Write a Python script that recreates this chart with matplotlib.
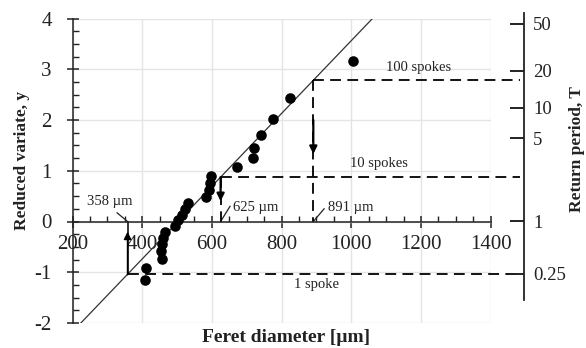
import matplotlib
matplotlib.use("Agg")
import matplotlib.pyplot as plt
import numpy as np

plt.rcParams["font.family"] = ["Liberation Serif", "DejaVu Serif"]
plt.rcParams["axes.unicode_minus"] = False

# ranked Feret diameters and Gumbel reduced variate
feret = [408, 411, 458, 455, 456, 459, 465, 494, 503, 513, 522, 531,
         582, 592, 594, 597, 671, 717, 720, 740, 776, 824, 1006]
reduced = [-1.16, -0.91, -0.73, -0.58, -0.45, -0.33, -0.21, -0.09, 0.02,
           0.13, 0.25, 0.37, 0.49, 0.62, 0.76, 0.90, 1.07, 1.25, 1.45,
           1.70, 2.01, 2.44, 3.16]

# fitted line y = a*x + b
fit_slope = 0.00717
fit_intercept = -3.606

# critical sizes for 1 / 10 / 100 spokes
crit_size = [358, 625, 891]
crit_label = ["358 µm", "625 µm", "891 µm"]
spoke_label = ["1 spoke", "10 spokes", "100 spokes"]

# return period axis (tick positions in reduced variate units)
T_pos = [3.90, 2.97, 2.24, 1.64, 0.0, -1.03]
T_lab = ["50", "20", "10", "5", "1", "0.25"]

W, H = 586, 348
fig = plt.figure(figsize=(W / 100, H / 100), dpi=100)

ax = fig.add_axes([72.5 / W, 1 - 323 / H, 418.2 / W, 304.5 / H])
ax.set_xlim(200, 1400)
ax.set_ylim(-2, 4)

ink = "#222222"
ax.set_xticks(np.arange(200, 1401, 200))
ax.set_yticks(np.arange(-2, 4.1, 1))
ax.set_xticks(np.arange(200, 1401, 50), minor=True)
ax.set_yticks(np.arange(-2, 4.01, 0.25), minor=True)
ax.grid(True, which="major", color="#e4e4e4", lw=1.0, zorder=0)
ax.set_axisbelow(True)

for s in ["top", "right"]:
    ax.spines[s].set_visible(False)
ax.spines["bottom"].set_position(("data", 0))
for s in ["left", "bottom"]:
    ax.spines[s].set_color(ink)
    ax.spines[s].set_linewidth(1.1)
    ax.spines[s].set_zorder(4)

ax.tick_params(which="major", direction="inout", length=8, width=1.1,
               color=ink, labelsize=15, labelcolor=ink)
ax.tick_params(which="minor", direction="in", length=4, width=1.0, color=ink)
ax.tick_params(axis="x", which="major", pad=6)
ax.tick_params(axis="y", which="major", pad=11)

# fit line
xs = np.array([200, 1400])
ax.plot(xs, fit_slope * xs + fit_intercept, color="#333333", lw=0.9, zorder=3)

# data points
ax.scatter(feret, reduced, s=58, color="black", zorder=5, linewidths=0)

x_right = 1484
dash = dict(color="black", lw=1.3, dashes=(6, 3.5), clip_on=False, zorder=3)
for i, xc in enumerate(crit_size):
    yc = fit_slope * xc + fit_intercept
    ax.plot([xc, x_right], [yc, yc], **dash)
    if i == 0:
        ax.plot([xc, xc], [yc, 0], color="black", lw=1.1, zorder=3)
        ax.annotate("", xy=(xc, -0.2), xytext=(xc, yc - 0.01),
                    arrowprops=dict(arrowstyle="-|>", color="black", lw=1.1,
                                    mutation_scale=11, shrinkA=0, shrinkB=0))
    else:
        ax.plot([xc, xc], [yc, 0], **dash)
        top = yc if i == 1 else 2.0
        tip = 0.4 if i == 1 else 1.33
        ax.annotate("", xy=(xc, tip), xytext=(xc, top),
                    arrowprops=dict(arrowstyle="-|>", color="black", lw=1.6,
                                    mutation_scale=11, shrinkA=0, shrinkB=0),
                    zorder=4)

# size labels with leader lines
ax.plot([358, 328], [0, 0.17], color=ink, lw=0.9)
ax.text(308, 0.385, crit_label[0], ha="center", va="center", fontsize=10.5, color=ink)
ax.plot([625, 652], [0, 0.3], color=ink, lw=0.9)
ax.text(725, 0.27, crit_label[1], ha="center", va="center", fontsize=10.5, color=ink)
ax.plot([891, 922], [0, 0.25], color=ink, lw=0.9)
ax.text(999, 0.27, crit_label[2], ha="center", va="center", fontsize=10.5, color=ink)

ax.text(899, -1.24, spoke_label[0], ha="center", va="center", fontsize=10.5, color=ink)
ax.text(1080, 1.15, spoke_label[1], ha="center", va="center", fontsize=10.5, color=ink)
ax.text(1194, 3.03, spoke_label[2], ha="center", va="center", fontsize=10.5, color=ink)

# return period axis
unit = 304.5 / 6
y0 = 323 - 2 * unit
ax2 = fig.add_axes([513.5 / W, 1 - 300 / H, 10 / W, 287 / H])
ax2.set_ylim((y0 - 300) / unit, (y0 - 13) / unit)
ax2.patch.set_visible(False)
for s in ["top", "left", "bottom"]:
    ax2.spines[s].set_visible(False)
ax2.spines["right"].set_color(ink)
ax2.spines["right"].set_linewidth(1.3)
ax2.set_xticks([])
ax2.yaxis.tick_right()
ax2.set_yticks(T_pos)
ax2.set_yticklabels(T_lab)
ax2.tick_params(axis="y", direction="in", length=10, width=1.4, color=ink,
                labelsize=13.5, labelcolor=ink, pad=7)

fig.text(286 / W, 1 - 337 / H, "Feret diameter [µm]", ha="center", va="center",
         fontsize=14, fontweight="bold", color=ink)
fig.text(22 / W, 1 - 160 / H, "Reduced variate, y", ha="center", va="center",
         rotation=90, fontsize=12.5, fontweight="bold", color=ink)
fig.text(577 / W, 1 - 149 / H, "Return period, T", ha="center", va="center",
         rotation=90, fontsize=12.5, fontweight="bold", color=ink)

fig.savefig("out.png", dpi=100)
